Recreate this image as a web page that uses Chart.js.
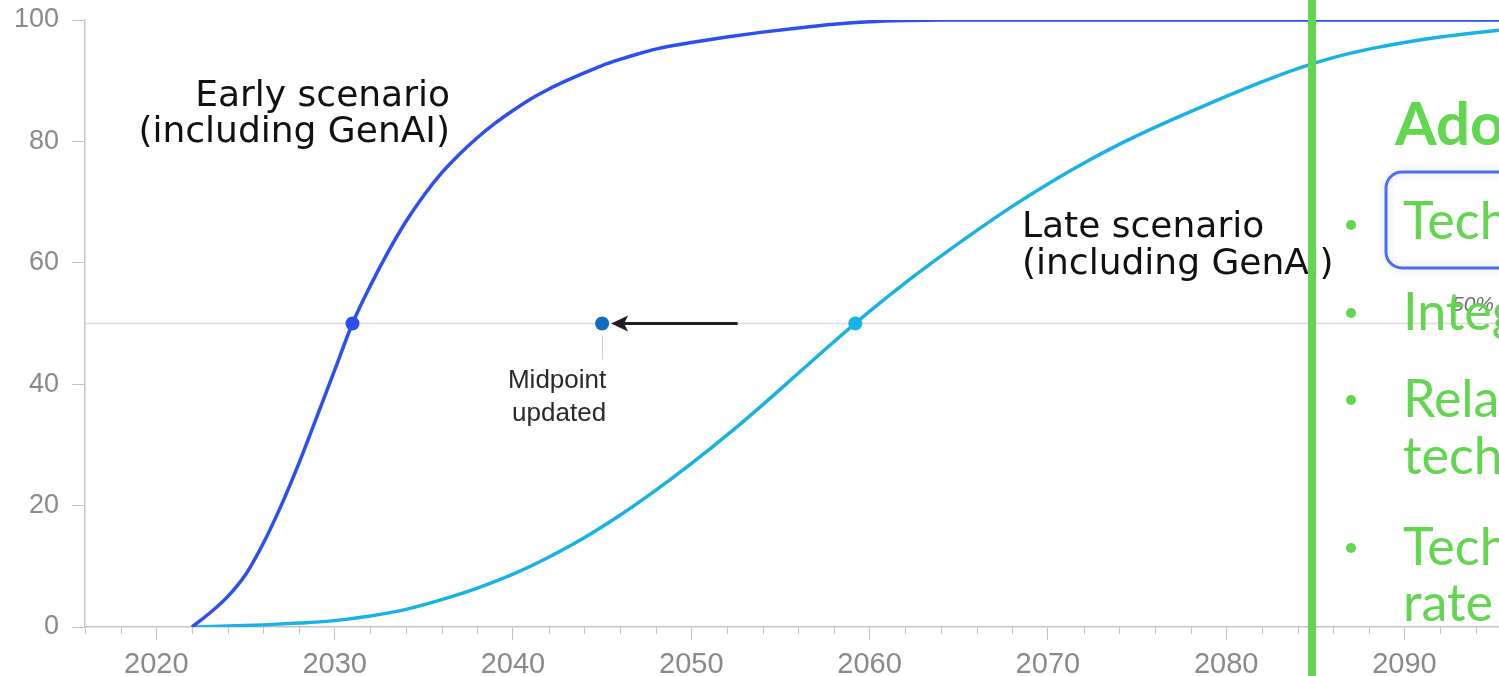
<!DOCTYPE html>
<html>
<head>
<meta charset="utf-8">
<script src="https://cdn.jsdelivr.net/npm/chart.js@4/dist/chart.umd.min.js"></script>
<style>
  html, body { margin: 0; padding: 0; background: #ffffff; overflow: hidden; }
  #wrap { width: 1499px; height: 676px; }
</style>
</head>
<body>
<div id="wrap"><canvas id="chart" width="1499" height="676"></canvas></div>
<script>
// Adoption curves (% of work activities automated), by year
const earlyYears  = [2022, 2023, 2024, 2025, 2026, 2027, 2028, 2029, 2030, 2031, 2032, 2033, 2034, 2035, 2036, 2037, 2038, 2039, 2040, 2041, 2042, 2043, 2044, 2045, 2046, 2047, 2048, 2049, 2050, 2052, 2054, 2056, 2058, 2060, 2062, 2064, 2070, 2080, 2090, 2096];
const earlyValues = [0, 2.3, 5, 8.6, 13.8, 20, 27, 34.6, 42.3, 50, 56.2, 61.8, 66.8, 71.1, 74.8, 77.9, 80.6, 83.0, 85.1, 87.0, 88.6, 90.0, 91.3, 92.5, 93.5, 94.4, 95.2, 95.8, 96.3, 97.2, 98.0, 98.7, 99.3, 99.7, 99.9, 100, 100, 100, 100, 100];

const lateYears  = [2022, 2024, 2026, 2028, 2030, 2032, 2034, 2036, 2038, 2040, 2042, 2044, 2046, 2048, 2050, 2052, 2054, 2056, 2058, 2060, 2062, 2064, 2066, 2068, 2070, 2072, 2074, 2076, 2078, 2080, 2082, 2084, 2086, 2088, 2090, 2092, 2094, 2096];
const lateValues = [0, 0.15, 0.35, 0.65, 1.05, 1.8, 2.9, 4.5, 6.4, 8.7, 11.5, 14.7, 18.4, 22.5, 26.9, 31.6, 36.6, 41.8, 47.0, 52.0, 56.7, 61.1, 65.3, 69.3, 73.0, 76.4, 79.5, 82.3, 84.9, 87.4, 89.8, 92.0, 93.8, 95.2, 96.3, 97.2, 97.9, 98.5];

// Midpoints (year at which 50% is reached)
const MIDPOINT_LEVEL = 50;
const earlyMidpointYear = 2031;
const lateMidpointYear = 2059.2;
const updatedMidpointYear = 2045;
const arrowFromYear = 2052.6;

// Axis ticks
const xTickYears = [];
for (let y = 2016; y <= 2094; y += 2) xTickYears.push(y);
const xLabelYears = [2020, 2030, 2040, 2050, 2060, 2070, 2080, 2090];
const yTickValues = [0, 20, 40, 60, 80, 100];

const X_MIN = 2016, X_MAX = 2095.3;

const COLOR_EARLY = '#2c4ff2';
const COLOR_LATE = '#19b2e6';
const COLOR_UPDATED = '#0f6fbf';
const COLOR_AXIS = '#c4c4c4';
const COLOR_TICKTEXT = '#8a8a8a';
const GREEN = '#62d64e';
const LABEL_FONT = '"DejaVu Sans", Verdana, sans-serif';
const PANEL_FONT = 'Lato, "Noto Sans", sans-serif';

const toPoints = (xs, ys) => xs.map((x, i) => ({ x, y: ys[i] }));

const overlayPlugin = {
  id: 'overlay',
  beforeDatasetsDraw(chart) {
    const { ctx, chartArea, scales: { x, y } } = chart;
    // 50% reference line
    const y50 = y.getPixelForValue(MIDPOINT_LEVEL);
    ctx.save();
    ctx.strokeStyle = '#dcdcdc';
    ctx.lineWidth = 1.5;
    ctx.beginPath();
    ctx.moveTo(chartArea.left, y50);
    ctx.lineTo(chart.width, y50);
    ctx.stroke();

    // minor x ticks
    ctx.strokeStyle = COLOR_AXIS;
    ctx.lineWidth = 1;
    xTickYears.forEach(v => {
      if (xLabelYears.includes(v)) return;
      const px = Math.round(x.getPixelForValue(v)) + 0.5;
      ctx.beginPath();
      ctx.moveTo(px, chartArea.bottom);
      ctx.lineTo(px, chartArea.bottom + 7);
      ctx.stroke();
    });

    // "50%" level tag
    ctx.fillStyle = '#6f6f6f';
    ctx.font = 'italic 21px "Liberation Sans", Arial, sans-serif';
    ctx.textAlign = 'left';
    ctx.textBaseline = 'middle';
    ctx.fillText('50%', 1452, y50 - 18);
    ctx.restore();
  },
  afterDatasetsDraw(chart) {
    const { ctx, scales: { x, y } } = chart;
    const y50 = y.getPixelForValue(MIDPOINT_LEVEL);
    const xUpd = x.getPixelForValue(updatedMidpointYear);
    const xFrom = x.getPixelForValue(arrowFromYear);
    ctx.save();

    // arrow pointing to the updated midpoint
    ctx.strokeStyle = '#231f20';
    ctx.fillStyle = '#231f20';
    ctx.lineWidth = 3;
    ctx.beginPath();
    ctx.moveTo(xFrom, y50);
    ctx.lineTo(xUpd + 22, y50);
    ctx.stroke();
    ctx.beginPath();
    ctx.moveTo(xUpd + 9, y50);
    ctx.lineTo(xUpd + 26, y50 - 8);
    ctx.lineTo(xUpd + 22, y50);
    ctx.lineTo(xUpd + 26, y50 + 8);
    ctx.closePath();
    ctx.fill();

    // leader line + label under the updated midpoint
    ctx.strokeStyle = '#cccccc';
    ctx.lineWidth = 1;
    ctx.beginPath();
    ctx.moveTo(Math.round(xUpd) + 0.5, y50 + 12);
    ctx.lineTo(Math.round(xUpd) + 0.5, y50 + 36);
    ctx.stroke();
    ctx.fillStyle = '#2a2a2a';
    ctx.font = '26px "Liberation Sans", Arial, sans-serif';
    ctx.textAlign = 'center';
    ctx.textBaseline = 'middle';
    ctx.fillText('Midpoint', xUpd - 45, 381);
    ctx.fillText('updated', xUpd - 43, 414);

    // scenario labels
    ctx.fillStyle = '#111111';
    ctx.font = '36px ' + LABEL_FONT;
    ctx.textAlign = 'right';
    ctx.fillText('Early scenario', 450, 97);
    ctx.fillText('(including GenAI)', 450, 133);
    ctx.textAlign = 'left';
    ctx.fillText('Late scenario', 1022, 228);
    ctx.fillText('(including GenAI)', 1022, 265);

    // side panel
    ctx.fillStyle = GREEN;
    ctx.fillRect(1308, 0, 8, chart.height);

    ctx.font = 'bold 60px ' + PANEL_FONT;
    ctx.textAlign = 'left';
    ctx.fillText('Ado', 1395, 126);

    ctx.save();
    ctx.shadowColor = 'rgba(0,0,0,0.18)';
    ctx.shadowBlur = 8;
    ctx.strokeStyle = '#4a6cf4';
    ctx.lineWidth = 3;
    ctx.beginPath();
    ctx.roundRect(1386, 172, 160, 96, 16);
    ctx.stroke();
    ctx.restore();

    const bullets = [225, 313, 400, 548];
    bullets.forEach(by => {
      ctx.beginPath();
      ctx.arc(1351, by, 5, 0, Math.PI * 2);
      ctx.fill();
    });
    ctx.font = '52px ' + PANEL_FONT;
    const lines = [['Tech', 222], ['Integ', 313], ['Rela', 400], ['tech', 457], ['Tech', 548], ['rate', 604]];
    lines.forEach(([t, ty]) => ctx.fillText(t, 1403, ty));
    ctx.restore();
  }
};

new Chart(document.getElementById('chart'), {
  type: 'line',
  data: {
    datasets: [
      {
        label: 'Early scenario (including GenAI)',
        data: toPoints(earlyYears, earlyValues),
        borderColor: COLOR_EARLY,
        borderWidth: 3.5,
        pointRadius: 0,
        cubicInterpolationMode: 'monotone',
        fill: false
      },
      {
        label: 'Late scenario (including GenAI)',
        data: toPoints(lateYears, lateValues),
        borderColor: COLOR_LATE,
        borderWidth: 3.5,
        pointRadius: 0,
        cubicInterpolationMode: 'monotone',
        fill: false
      },
      {
        type: 'scatter',
        label: 'Midpoints',
        data: [
          { x: earlyMidpointYear, y: MIDPOINT_LEVEL },
          { x: lateMidpointYear, y: MIDPOINT_LEVEL },
          { x: updatedMidpointYear, y: MIDPOINT_LEVEL }
        ],
        pointRadius: 7,
        pointBorderWidth: 0,
        pointBackgroundColor: [COLOR_EARLY, COLOR_LATE, COLOR_UPDATED],
        showLine: false
      }
    ]
  },
  options: {
    responsive: false,
    devicePixelRatio: 1,
    animation: false,
    layout: { autoPadding: false, padding: { top: 20, right: 0, left: 0, bottom: 0 } },
    plugins: { legend: { display: false }, tooltip: { enabled: false } },
    scales: {
      x: {
        type: 'linear',
        min: X_MIN,
        max: X_MAX,
        afterBuildTicks: s => { s.ticks = xTickYears.map(v => ({ value: v })); },
        afterFit: s => { s.height = 49; s.paddingLeft = 0; s.paddingRight = 0; },
        border: { color: COLOR_AXIS, width: 1.5 },
        grid: {
          drawOnChartArea: false,
          tickLength: 13,
          color: c => (c.tick && xLabelYears.includes(c.tick.value)) ? COLOR_AXIS : 'rgba(0,0,0,0)'
        },
        ticks: {
          autoSkip: false,
          maxRotation: 0,
          padding: 8,
          color: COLOR_TICKTEXT,
          font: { family: '"Liberation Sans", Arial, sans-serif', size: 29 },
          callback: v => xLabelYears.includes(v) ? String(v) : ''
        }
      },
      y: {
        min: 0,
        max: 100,
        afterBuildTicks: s => { s.ticks = yTickValues.map(v => ({ value: v })); },
        afterFit: s => { s.width = 85; s.paddingTop = 0; s.paddingBottom = 0; },
        border: { color: COLOR_AXIS, width: 1.5 },
        grid: { drawOnChartArea: false, tickLength: 13, color: COLOR_AXIS },
        ticks: {
          padding: 13,
          color: COLOR_TICKTEXT,
          font: { family: '"Liberation Sans", Arial, sans-serif', size: 27 }
        }
      }
    }
  },
  plugins: [overlayPlugin]
});
</script>
</body>
</html>
